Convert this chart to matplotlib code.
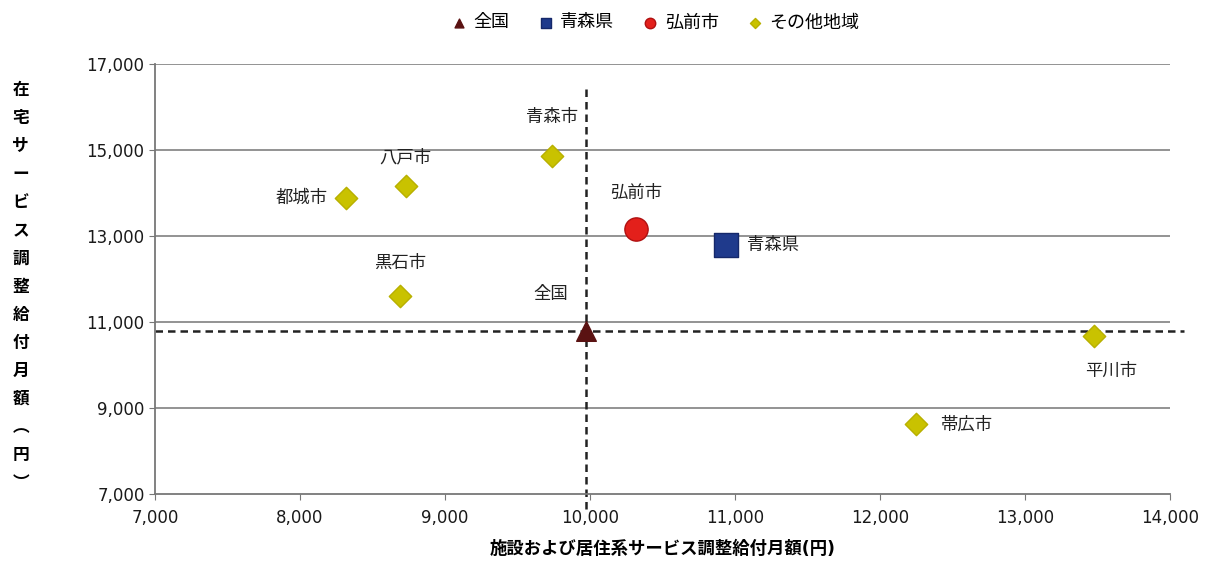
import matplotlib.pyplot as plt
from matplotlib.ticker import FuncFormatter

plt.rcParams['font.family'] = ['DejaVu Sans', 'Noto Sans CJK JP']

# 施設・居住系 (x) と 在宅 (y) の調整給付月額（円）
nat_name = "全国"
nat_x = 9970
nat_y = 10780

pref_name = "青森県"
pref_x = 10940
pref_y = 12800

city_name = "弘前市"
city_x = 10320
city_y = 13170

others = ["青森市", "八戸市", "都城市", "黒石市", "帯広市", "平川市"]
others_x = [9740, 8730, 8320, 8690, 12250, 13480]
others_y = [14870, 14160, 13880, 11600, 8620, 10680]

xticks = [7000, 8000, 9000, 10000, 11000, 12000, 13000, 14000]
yticks = [7000, 9000, 11000, 13000, 15000, 17000]

fig = plt.figure(figsize=(12.11, 5.62), dpi=100)
ax = fig.add_axes([0.128, 0.121, 0.838, 0.765])

ax.set_xlim(7000, 14000)
ax.set_ylim(7000, 17000)
ax.set_xticks(xticks)
ax.set_yticks(yticks)
fmt = FuncFormatter(lambda v, p: f"{int(v):,}")
ax.xaxis.set_major_formatter(fmt)
ax.yaxis.set_major_formatter(fmt)
ax.tick_params(labelsize=12, labelcolor="#1a1a1a", length=4, color="#777777")
ax.tick_params(axis="x", pad=7)

for s in ["top", "right"]:
    ax.spines[s].set_visible(False)
for s in ["left", "bottom"]:
    ax.spines[s].set_color("#777777")
    ax.spines[s].set_linewidth(1.3)

for y in yticks[1:]:
    ax.axhline(y, color="#8a8a8a", lw=1.3, zorder=1)

# national average reference lines
ax.plot([nat_x, nat_x], [6650, 16500], color="#222222", ls=(0, (3, 2)), lw=1.8,
        clip_on=False, zorder=2)
ax.plot([7000, 14100], [nat_y, nat_y], color="#222222", ls=(0, (3, 2)), lw=1.8,
        clip_on=False, zorder=2)

ax.scatter([nat_x], [nat_y], marker="^", s=200, color="#5a1212", zorder=4,
           label=nat_name)
ax.scatter([pref_x], [pref_y], marker="s", s=300, color="#1f3a8c",
           edgecolor="#15286a", zorder=4, label=pref_name)
ax.scatter([city_x], [city_y], marker="o", s=280, color="#e3201b",
           edgecolor="#b01010", zorder=4, label=city_name)
ax.scatter(others_x, others_y, marker="D", s=130, color="#c9c200",
           edgecolor="#b8b000", zorder=4, label="その他地域")

tkw = dict(fontsize=12.5, color="#222222")
ax.annotate(nat_name, (nat_x, nat_y), xytext=(-25, 27), textcoords="offset points",
            ha="center", va="center", **tkw)
ax.annotate(pref_name, (pref_x, pref_y), xytext=(34, 0), textcoords="offset points",
            ha="center", va="center", **tkw)
ax.annotate(city_name, (city_x, city_y), xytext=(0, 26), textcoords="offset points",
            ha="center", va="center", **tkw)
offsets = [(0, 28), (0, 21), (-32, 0), (0, 24), (36, 0), (12, -25)]
for name, x, y, off in zip(others, others_x, others_y, offsets):
    ax.annotate(name, (x, y), xytext=off, textcoords="offset points",
                ha="center", va="center", **tkw)

ax.set_xlabel("施設および居住系サービス調整給付月額(円)", fontsize=12.5,
              fontweight="bold", labelpad=9)
# vertical stacked y label
fig.text(0.017, 0.49, "\n".join("在宅サービス調整給付月額︵円︶"), fontsize=12,
         fontweight="bold", ha="center", va="center", linespacing=1.72)

leg = fig.legend(loc="upper center", bbox_to_anchor=(0.537, 1.005), ncol=4,
                 frameon=False, fontsize=13, handletextpad=-0.2,
                 columnspacing=1.0, markerscale=0.45, scatterpoints=1)

fig.savefig("out.png", dpi=100, facecolor="white")
